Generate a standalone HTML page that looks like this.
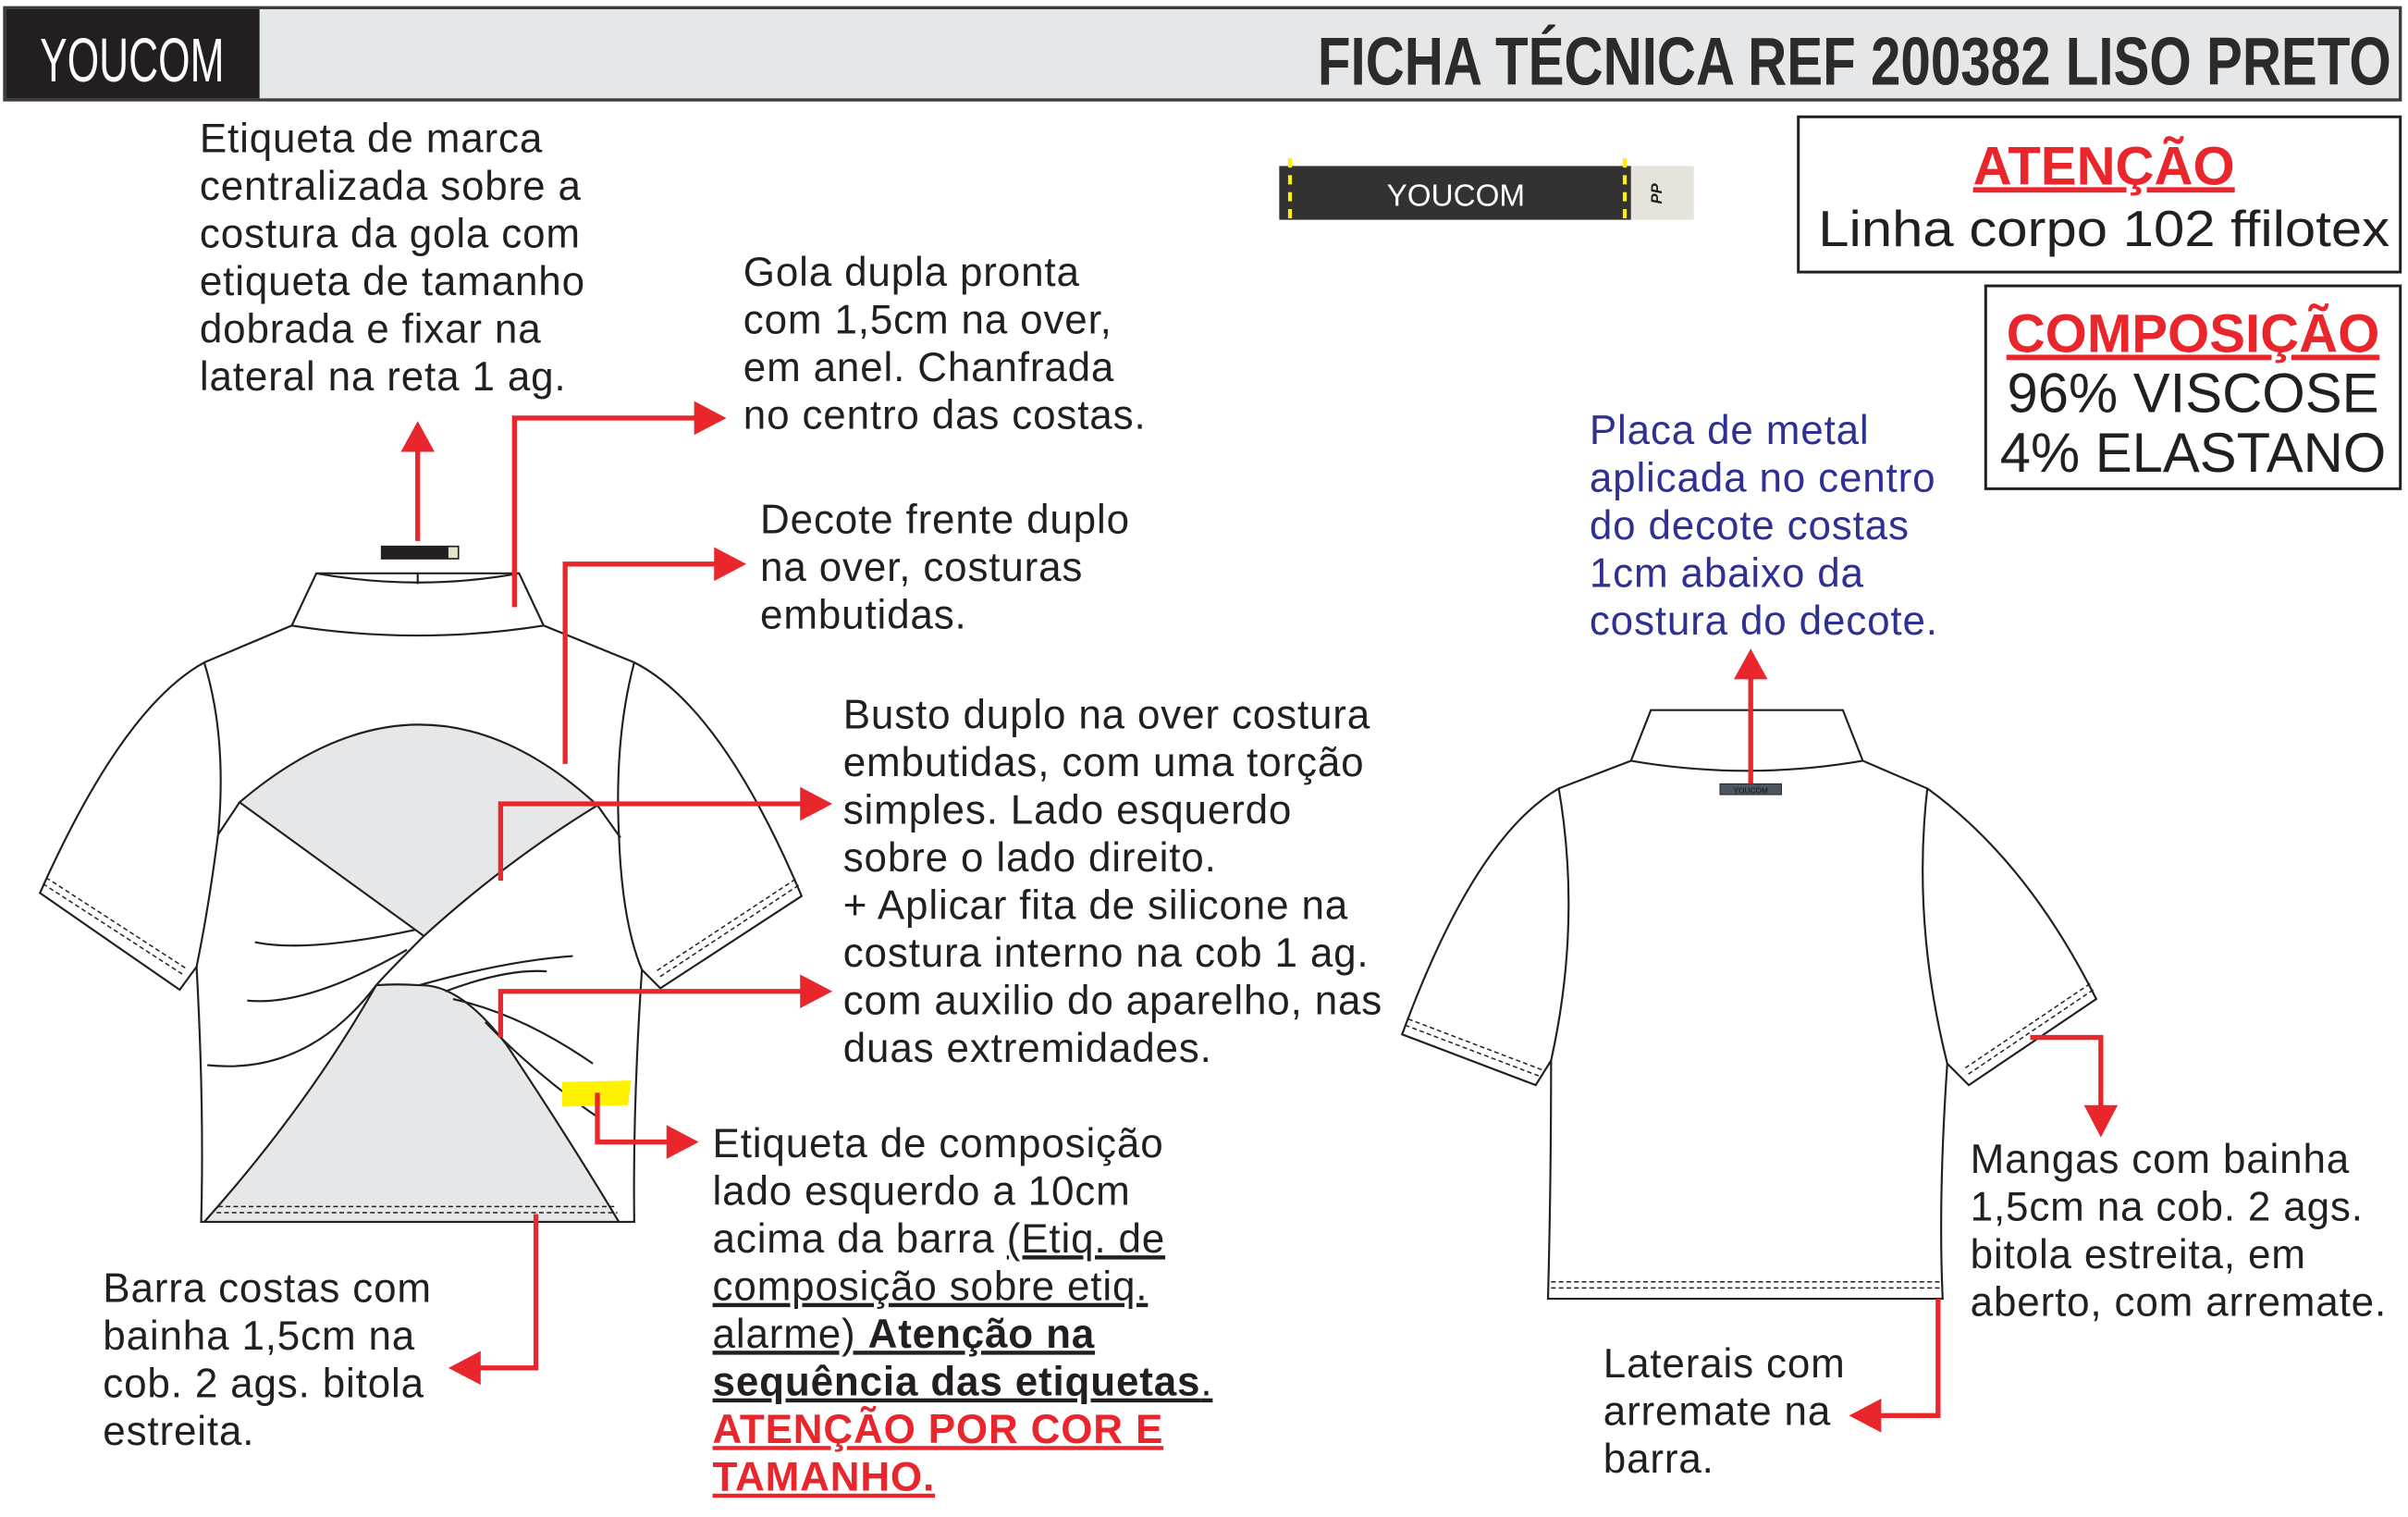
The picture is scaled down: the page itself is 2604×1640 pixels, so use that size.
<!DOCTYPE html>
<html><head><meta charset="utf-8"><style>
html,body{margin:0;padding:0;background:#fff}
svg{display:block}
text{font-family:"Liberation Sans",sans-serif;fill:#231f20}
.t{font-size:26.5px;letter-spacing:0.5px}
.u{text-decoration:underline}
.b{font-weight:bold}
.r{fill:#e8262b}
.bl{fill:#2e3192}
.s{fill:none;stroke:#231f20;stroke-width:1.3}
.d{fill:none;stroke:#231f20;stroke-width:0.9;stroke-dasharray:3 2}
.a{fill:none;stroke:#e8262b;stroke-width:3.2}
.ah{fill:#e8262b}
</style></head><body>
<svg width="2604" height="1640" viewBox="0 0 1568 987" preserveAspectRatio="none" xmlns="http://www.w3.org/2000/svg">
<rect width="1568" height="987" fill="#fff"/>
<!-- header -->
<rect x="3" y="5" width="1560" height="60" fill="#e6e7e8" stroke="#3a3a3a" stroke-width="2"/>
<rect x="4" y="6" width="165" height="58" fill="#231f20"/>
<text x="86" y="53" text-anchor="middle" style="font-size:40px;fill:#fff" textLength="120" lengthAdjust="spacingAndGlyphs">YOUCOM</text>
<text x="1557" y="55" text-anchor="end" class="b" style="font-size:44px;fill:#2b2b2b" textLength="699" lengthAdjust="spacingAndGlyphs">FICHA TÉCNICA REF 200382 LISO PRETO</text>
<!-- label tape -->
<rect x="833" y="108" width="270" height="35" fill="#e6e3dd"/>
<rect x="833" y="108" width="229" height="35" fill="#323232"/>
<line x1="840" y1="103" x2="840" y2="147" stroke="#fff200" stroke-width="2.5" stroke-dasharray="6 5"/>
<line x1="1058" y1="103" x2="1058" y2="147" stroke="#fff200" stroke-width="2.5" stroke-dasharray="6 5"/>
<text x="948" y="134" text-anchor="middle" style="font-size:20px;fill:#fff">YOUCOM</text>
<text x="1082" y="126" text-anchor="middle" transform="rotate(-90 1082 126)" class="b" style="font-size:10px;font-style:italic">PP</text>
<!-- boxes -->
<rect x="1171" y="76" width="392" height="101" fill="#fff" stroke="#231f20" stroke-width="1.8"/>
<text x="1370" y="120" text-anchor="middle" class="b r u" style="font-size:35px">ATENÇÃO</text>
<text x="1184" y="160" style="font-size:33px" textLength="372" lengthAdjust="spacingAndGlyphs">Linha corpo 102 ffilotex</text>
<rect x="1293" y="186" width="270" height="132" fill="#fff" stroke="#231f20" stroke-width="1.8"/>
<text x="1428" y="229" text-anchor="middle" class="b r u" style="font-size:35px">COMPOSIÇÃO</text>
<text x="1428" y="268" text-anchor="middle" style="font-size:36px">96% VISCOSE</text>
<text x="1428" y="307" text-anchor="middle" style="font-size:36px">4% ELASTANO</text>

<!-- left shirt -->
<path class="s" fill="#fff" d="M133,431 L190,407 L206,373 L338,373 L354,407 L413,431 Q470,460 522,583 L430,643 L418,631 Q412,720 413,795 L131,795 Q133,720 128,629 L117,644 L26,581 Q80,460 133,431 Z"/>
<path class="s" d="M190,407 Q272,420 354,407"/>
<path class="s" d="M206,373 Q272,385 338,373 M272,373 L272,380"/>
<path class="s" d="M133,431 Q148,480 142,543 Q136,590 128,629"/>
<path class="s" d="M413,431 Q400,480 403,543 Q405,600 418,631"/>
<path class="d" d="M28,575 L119,634 M30,571 L121,630 M520,576 L429,636 M518,572 L427,632"/>
<path d="M156,522 Q276,420 389,524 Q330,560 276,609 Z" fill="#e6e7e8" stroke="#231f20" stroke-width="1.3"/>
<path d="M133,795 Q200,720 245,641 Q258,640 273,641 Q300,640 330,680 Q370,740 403,795 Z" fill="#e6e7e8" stroke="#231f20" stroke-width="1.3"/>
<path class="s" d="M142,543 L156,522 M389,524 L404,545"/>
<path class="s" d="M276,609 Q250,635 245,641 M245,641 Q200,700 135,693"/>
<path class="s" d="M166,613 Q200,620 270,605 M161,651 Q200,655 265,618 M273,641 Q330,625 373,622 M290,645 Q330,630 356,632 M295,650 Q340,660 386,692 M316,665 Q350,700 388,726"/>
<path class="d" d="M142,785 L400,785 M141,789 L402,789"/>
<rect x="248" y="355" width="51" height="9" fill="#231f20"/>
<rect x="292" y="356" width="6" height="7" fill="#e6e3cc"/>
<path d="M366,704 L411,703 L409,719 L366,720 Z" fill="#fff200"/>

<!-- right shirt -->
<path class="s" fill="#fff" d="M1015,513 L1062,495 L1075,462 L1200,462 L1213,495 L1255,513 Q1320,560 1365,650 L1282,706 L1268,692 Q1262,780 1265,845 L1008,845 Q1010,770 1010,690 L1000,706 L913,673 Q960,545 1015,513 Z"/>
<path class="s" d="M1062,495 Q1138,508 1213,495"/>
<path class="s" d="M1015,513 Q1030,600 1010,690 M1255,513 Q1245,600 1268,692"/>
<path class="d" d="M915,667 L1002,700 M917,663 L1004,696 M1363,644 L1280,700 M1361,640 L1278,696 M1010,834 L1263,834 M1010,838 L1263,838"/>
<rect x="1120" y="510" width="40" height="7" fill="#4a5560" stroke="#222" stroke-width="0.6"/>
<text x="1140" y="516" text-anchor="middle" style="font-size:5px;fill:#111">YOUCOM</text>

<!-- arrows -->
<path class="a" d="M272,352 L272,292"/><path class="ah" d="M261,294 L272,274 L283,294 Z"/>
<path class="a" d="M335,395 L335,272 L455,272"/><path class="ah" d="M452,261 L473,272 L452,283 Z"/>
<path class="a" d="M368,497 L368,367 L468,367"/><path class="ah" d="M465,356 L486,367 L465,378 Z"/>
<path class="a" d="M326,573 L326,523 L524,523"/><path class="ah" d="M521,512 L542,523 L521,534 Z"/>
<path class="a" d="M326,675 L326,645 L524,645"/><path class="ah" d="M521,634 L542,645 L521,656 Z"/>
<path class="a" d="M389,711 L389,743 L437,743"/><path class="ah" d="M434,732 L455,743 L434,754 Z"/>
<path class="a" d="M349,790 L349,890 L310,890"/><path class="ah" d="M313,879 L292,890 L313,901 Z"/>
<path class="a" d="M1140,510 L1140,440"/><path class="ah" d="M1129,442 L1140,422 L1151,442 Z"/>
<path class="a" d="M1322,675 L1368,675 L1368,722"/><path class="ah" d="M1357,719 L1368,740 L1379,719 Z"/>
<path class="a" d="M1262,845 L1262,921 L1222,921"/><path class="ah" d="M1225,910 L1204,921 L1225,932 Z"/>

<!-- texts -->
<g class="t">
<text x="130" y="99">Etiqueta de marca</text>
<text x="130" y="130">centralizada sobre a</text>
<text x="130" y="161">costura da gola com</text>
<text x="130" y="192">etiqueta de tamanho</text>
<text x="130" y="223">dobrada e fixar na</text>
<text x="130" y="254">lateral na reta 1 ag.</text>

<text x="484" y="186">Gola dupla pronta</text>
<text x="484" y="217">com 1,5cm na over,</text>
<text x="484" y="248">em anel. Chanfrada</text>
<text x="484" y="279">no centro das costas.</text>

<text x="495" y="347">Decote frente duplo</text>
<text x="495" y="378">na over, costuras</text>
<text x="495" y="409">embutidas.</text>

<text x="549" y="474">Busto duplo na over costura</text>
<text x="549" y="505">embutidas, com uma torção</text>
<text x="549" y="536">simples. Lado esquerdo</text>
<text x="549" y="567">sobre o lado direito.</text>
<text x="549" y="598">+ Aplicar fita de silicone na</text>
<text x="549" y="629">costura interno na cob 1 ag.</text>
<text x="549" y="660">com auxilio do aparelho, nas</text>
<text x="549" y="691">duas extremidades.</text>

<text x="464" y="753">Etiqueta de composição</text>
<text x="464" y="784">lado esquerdo a 10cm</text>
<text x="464" y="815">acima da barra <tspan class="u">(Etiq. de</tspan></text>
<text x="464" y="846" class="u">composição sobre etiq.</text>
<text x="464" y="877" class="u">alarme) <tspan class="b">Atenção na</tspan></text>
<text x="464" y="908" class="u"><tspan class="b">sequência das etiquetas</tspan>.</text>
<text x="464" y="939" class="u b r">ATENÇÃO POR COR E</text>
<text x="464" y="970" class="u b r">TAMANHO.</text>

<text x="67" y="847">Barra costas com</text>
<text x="67" y="878">bainha 1,5cm na</text>
<text x="67" y="909">cob. 2 ags. bitola</text>
<text x="67" y="940">estreita.</text>

<text x="1035" y="289" class="bl">Placa de metal</text>
<text x="1035" y="320" class="bl">aplicada no centro</text>
<text x="1035" y="351" class="bl">do decote costas</text>
<text x="1035" y="382" class="bl">1cm abaixo da</text>
<text x="1035" y="413" class="bl">costura do decote.</text>

<text x="1283" y="763">Mangas com bainha</text>
<text x="1283" y="794">1,5cm na cob. 2 ags.</text>
<text x="1283" y="825">bitola estreita, em</text>
<text x="1283" y="856">aberto, com arremate.</text>

<text x="1044" y="896">Laterais com</text>
<text x="1044" y="927">arremate na</text>
<text x="1044" y="958">barra.</text>
</g>
</svg>
</body></html>
